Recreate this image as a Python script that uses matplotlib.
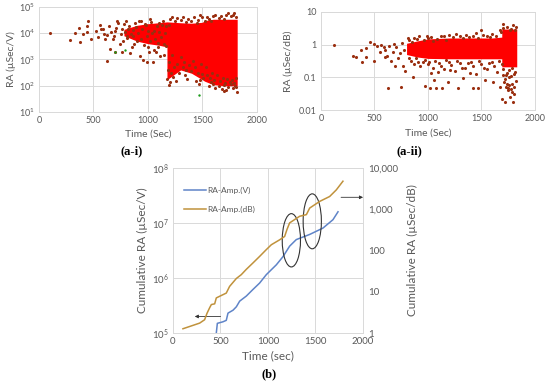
import numpy as np
import matplotlib.pyplot as plt
from matplotlib.patches import Ellipse

# ---- (a-i) RA (uSec/V) scatter ----
ai_x = [104, 288, 334, 365, 374, 405, 442, 442, 454, 482, 567, 595, 626, 620, 650, 696,
        718, 758, 804, 834, 865, 926, 957, 988, 1049, 1055, 1095, 1110, 1074,
        680, 700, 740, 780, 820, 850, 880, 900, 940, 980, 1000, 1020, 1060, 1100, 1140, 1150, 1010,
        520, 540, 560, 590, 610, 640, 660, 690, 710, 730, 750, 760, 770, 790, 800, 810, 830, 845,
        860, 875, 890, 910, 920, 935, 950, 965, 975, 990, 1005, 1015, 1030, 1040, 1065, 1080, 1090,
        1105, 1120, 1130, 1145, 1160, 1165, 1170,
        1180, 1190, 1200, 1230, 1260, 1290, 1320, 1340, 1360, 1400, 1440, 1470, 1480, 1510,
        1560, 1580, 1600, 1620, 1650, 1680, 1700, 1720, 1740, 1760, 1780, 1800, 1810,
        1185, 1195, 1210, 1225, 1240, 1270, 1300, 1330, 1350, 1380, 1410, 1430, 1460, 1490, 1500,
        1530, 1545, 1570, 1590, 1610, 1630, 1660, 1690, 1710, 1730, 1750, 1770, 1790, 1805, 1815, 1700,
        1200, 1250, 1300, 1350, 1400, 1450, 1480, 1520, 1560, 1600, 1650, 1700, 1737, 1792, 1760,
        1190, 1220, 1270, 1320, 1370, 1420, 1460, 1500, 1540, 1580, 1620, 1670, 1720, 1780, 1810]
ai_y = [1.05e4, 5.3e3, 1.0e4, 1.6e4, 4.8e3, 9.1e3, 1.9e4, 1.07e4, 2.8e4, 5.9e3, 1.5e4, 9.1e3, 8.7e3, 870, 2.5e3, 2.0e3,
        2.9e4, 2.0e3, 8.1e3, 1.7e3, 7.6e3, 1.4e3, 950, 830, 830, 2.3e3, 4.2e3, 1.3e3, 2.0e3,
        6e3, 1.2e4, 4e3, 2.2e4, 1.5e4, 3e3, 2.5e4, 5e3, 3e4, 2e4, 3e3, 3.5e4, 1.2e4, 2.5e4, 3e4, 4e3, 2e3,
        1.2e4, 7e3, 2e4, 1.4e4, 6e3, 1.8e4, 1.1e4, 8e3, 1.6e4, 2.4e4, 9e3, 1.4e4, 5e3, 1.1e4, 3e4, 6.5e3, 1.9e4, 9e3,
        1.3e4, 4e3, 1.7e4, 1e4, 2.8e4, 6e3, 1.5e4, 3.6e3, 2.2e4, 8e3, 1.2e4, 5e3, 2.7e4, 1e4, 6e3, 1.8e4, 3e3,
        1.1e4, 7e3, 2e4, 1.5e3, 1e4, 3.2e3, 1.8e4,
        180, 110, 140, 220, 150, 300, 500, 250, 180, 350, 150, 120, 160, 200,
        100, 140, 120, 80, 100, 75, 110, 70, 90, 120, 80, 100, 90,
        400, 800, 300, 1.5e3, 500, 700, 1.2e3, 800, 400, 600, 900, 500, 300, 700, 280,
        500, 250, 200, 300, 170, 250, 150, 200, 130, 180, 140, 160, 130, 200, 60, 65,
        3.5e4, 2.8e4, 3.2e4, 2.6e4, 3e4, 2.5e4, 5e4, 3e4, 3.5e4, 4.5e4, 3.8e4, 3.5e4, 6e4, 6e4, 4.5e4,
        2e4, 4e4, 3.8e4, 4.2e4, 3.5e4, 4e4, 3.2e4, 4e4, 4.2e4, 3e4, 5e4, 4.6e4, 5e4, 4.8e4, 4.2e4]
ai_green_x = [700, 790, 1470]
ai_green_y = [2.0e3, 2.2e3, 45]
# dense cloud envelope
ai_band_x = [780, 900, 1000, 1100, 1175, 1175, 1300, 1400, 1500, 1520, 1600, 1700, 1820]
ai_band_hi = [1.4e4, 2.0e4, 2.3e4, 2.5e4, 2.7e4, 2.7e4, 2.5e4, 2.4e4, 2.6e4, 3.0e4, 3.4e4, 3.4e4, 3.4e4]
ai_band_lo = [8e3, 5e3, 4e3, 3.5e3, 3e3, 170, 400, 300, 170, 150, 110, 100, 100]

# ---- (a-ii) RA (uSec/dB) scatter ----
aii_x = [118, 299, 330, 373, 379, 423, 460, 491, 498, 554, 585, 600, 631, 653, 678, 694, 740, 750,
         771, 787, 818, 864, 973, 1020, 1057, 1076, 1129, 1098, 1191, 1207, 1285, 1496, 1331, 1393,
         1424, 1471, 1533, 1611, 1673, 1689, 1720, 1767, 1792, 1807, 1751, 1735, 1782, 1798, 1823,
         1767, 1673, 1704,
         900, 1000, 1050, 1150, 1200, 1300, 1380, 1450, 1550, 1600,
         950, 1000, 1050, 1100, 1150, 1200, 1250, 1300, 1350, 1400, 1450, 1500, 1550, 1600, 1650,
         1700, 1720, 1740, 1760, 1780, 1800, 1700, 1740, 1780, 1810,
         420, 520, 560, 600, 620, 640, 670, 700, 720, 760, 780,
         820, 850, 870, 920, 960, 990, 1030, 1080, 1120, 1170, 1230, 1260, 1330, 1360, 1420, 1470,
         1510, 1580, 1640, 1680,
         820, 840, 870, 890, 910, 930, 970, 1010, 1030, 1070, 1120, 1170, 1220, 1270, 1320, 1370,
         1420, 1480, 1520, 1570, 1620, 1660, 1690,
         1700, 1715, 1730, 1745, 1760, 1775, 1790, 1805, 1820, 1810, 1725, 1755, 1790]
aii_y = [0.95, 0.45, 0.42, 0.71, 0.30, 0.42, 1.2, 0.32, 1.08, 0.60, 0.85, 0.43, 0.049, 0.32, 1.07, 0.23, 0.56, 0.051,
         0.23, 0.16, 1.65, 0.10, 0.053, 0.049, 0.081, 0.049, 0.049, 0.148, 0.072, 0.166, 0.049, 2.75, 0.093, 0.132,
         0.049, 0.046, 0.081, 0.072, 0.051, 0.022, 0.018, 0.026, 0.018, 0.032, 0.046, 0.065, 0.065, 3.9, 3.5,
         2.75, 2.75, 4.2,
         1.5, 1.6, 1.25, 1.8, 2.0, 1.9, 1.7, 2.2, 1.9, 2.1,
         0.30, 0.25, 0.20, 0.28, 0.18, 0.30, 0.16, 0.27, 0.20, 0.30, 0.13, 0.25, 0.18, 0.30, 0.15,
         0.12, 0.09, 0.14, 0.10, 0.11, 0.13, 3.2, 3.4, 3.0, 2.9,
         0.8, 0.9, 1.0, 0.7, 0.45, 0.9, 0.6, 0.85, 0.4, 1.1, 0.7,
         1.4, 1.2, 1.6, 1.8, 1.4, 1.9, 1.7, 1.5, 1.9, 1.4, 1.7, 2.1, 1.6, 2.0, 1.8, 1.6,
         2.0, 1.7, 1.9, 2.4,
         0.4, 0.32, 0.25, 0.38, 0.3, 0.22, 0.33, 0.3, 0.14, 0.32, 0.22, 0.33, 0.24, 0.32, 0.19, 0.28,
         0.23, 0.32, 0.2, 0.28, 0.22, 0.32, 0.25,
         0.18, 0.07, 0.05, 0.04, 0.06, 0.045, 0.035, 0.05, 0.08, 0.15, 0.12, 0.17, 0.19]
aii_band_x = [800, 900, 1000, 1200, 1400, 1600, 1690, 1690, 1830]
aii_band_hi = [1.1, 1.3, 1.5, 1.6, 1.6, 1.6, 1.7, 3.0, 3.0]
aii_band_lo = [0.5, 0.42, 0.38, 0.37, 0.37, 0.37, 0.37, 0.21, 0.21]

# ---- (b) cumulative RA ----
v_time = [450, 456, 467, 526, 561, 579, 632, 667, 702, 772, 842, 912, 982, 1088, 1158, 1228, 1298, 1439,
          1579, 1684, 1737]
v_cum = [8e4, 1.0e5, 1.5e5, 1.6e5, 1.7e5, 2.3e5, 2.6e5, 3.0e5, 3.8e5, 4.7e5, 6.2e5, 8.1e5, 1.15e6, 1.74e6,
         2.45e6, 3.8e6, 5.0e6, 6.2e6, 8.1e6, 1.15e7, 1.6e7]
db_time = [105, 281, 333, 358, 386, 404, 439, 456, 526, 561, 596, 667, 719, 772, 842, 912, 982, 1035, 1123,
           1175, 1200, 1228, 1333, 1404, 1439, 1544, 1649, 1719, 1789]
db_cum = [1.27, 1.74, 2.1, 3.0, 4.1, 4.9, 5.1, 7.1, 8.5, 9.3, 13.5, 21, 26, 35, 50, 72, 105, 138, 182,
          219, 324, 468, 676, 741, 1070, 1550, 2040, 2950, 4790]

grid_c = '#d9d9d9'
tick_c = '#595959'
dot_c = '#9a2f10'
red_c = '#ff0000'
plt.rcParams['font.family'] = ['Lato', 'DejaVu Sans']


def excel_style(ax, fs=6.5):
    ax.grid(True, color=grid_c, lw=0.7)
    ax.set_axisbelow(True)
    for s in ax.spines.values():
        s.set_color(grid_c)
        s.set_linewidth(0.7)
    ax.tick_params(length=0, labelsize=fs, colors=tick_c, pad=3)
    ax.minorticks_off()


fig = plt.figure(figsize=(5.5, 3.85), dpi=100)

# (a-i)
ax1 = fig.add_axes([0.0709, 0.709, 0.396, 0.273])
ax1.fill_between(ai_band_x, ai_band_lo, ai_band_hi, color=red_c, lw=0, zorder=2)
ax1.scatter(ai_x, ai_y, s=5, color=dot_c, lw=0, zorder=3)
ax1.scatter(ai_green_x, ai_green_y, s=3, color='#1a9a1a', lw=0, zorder=3)
ax1.set_yscale('log')
ax1.set_xlim(0, 2000)
ax1.set_ylim(10, 1e5)
ax1.set_xticks([0, 500, 1000, 1500, 2000])
ax1.set_yticks([1e1, 1e2, 1e3, 1e4, 1e5])
excel_style(ax1)
ax1.set_xlabel('Time (Sec)', fontsize=7.5, color=tick_c, labelpad=3)
ax1.set_ylabel('RA (\u00b5Sec/V)', fontsize=7.5, color=tick_c, labelpad=2)
fig.text(0.24, 0.598, '(a-i)', ha='center', fontsize=9, fontweight='bold', family='Liberation Serif')

# (a-ii)
ax2 = fig.add_axes([0.5836, 0.714, 0.389, 0.255])
ax2.fill_between(aii_band_x, aii_band_lo, aii_band_hi, color=red_c, lw=0, zorder=2)
ax2.scatter(aii_x, aii_y, s=5, color=dot_c, lw=0, zorder=3)
ax2.set_yscale('log')
ax2.set_xlim(0, 2000)
ax2.set_ylim(0.01, 10)
ax2.set_xticks([0, 500, 1000, 1500, 2000])
ax2.set_yticks([0.01, 0.1, 1, 10])
ax2.set_yticklabels(['0.01', '0.1', '1', '10'])
excel_style(ax2)
ax2.set_xlabel('Time (Sec)', fontsize=7.5, color=tick_c, labelpad=4)
ax2.set_ylabel('RA (\u00b5Sec/dB)', fontsize=7.5, color=tick_c, labelpad=4)
fig.text(0.745, 0.598, '(a-ii)', ha='center', fontsize=9, fontweight='bold', family='Liberation Serif')

# (b)
ax = fig.add_axes([0.3145, 0.135, 0.3455, 0.4286])
ax.plot(v_time, v_cum, color='#5f84c8', lw=1.1, label='RA-Amp.(V)')
ax.set_yscale('log')
ax.set_xlim(0, 2000)
ax.set_ylim(1e5, 1e8)
ax.set_xticks([0, 500, 1000, 1500, 2000])
ax.set_yticks([1e5, 1e6, 1e7, 1e8])
excel_style(ax, fs=7)
ax.set_xlabel('Time (sec)', fontsize=8.5, color=tick_c, labelpad=3)
ax.set_ylabel('Cumulative RA (\u00b5Sec/V)', fontsize=8.5, color=tick_c, labelpad=3)

axr = ax.twinx()
axr.plot(db_time, db_cum, color='#c0923c', lw=1.1, label='RA-Amp.(dB)')
axr.set_yscale('log')
axr.set_ylim(1, 1e4)
axr.set_yticks([1, 10, 100, 1000, 10000])
axr.set_yticklabels(['1', '10', '100', '1,000', '10,000'])
for s in axr.spines.values():
    s.set_visible(False)
axr.tick_params(length=0, labelsize=7, colors=tick_c, pad=4)
axr.minorticks_off()
axr.set_ylabel('Cumulative RA (\u00b5Sec/dB)', fontsize=8.5, color=tick_c, labelpad=6)

h1, l1 = ax.get_legend_handles_labels()
h2, l2 = axr.get_legend_handles_labels()
axr.legend(h1 + h2, l1 + l2, loc='upper left', bbox_to_anchor=(0.02, 0.93), frameon=False,
           fontsize=6, handlelength=2.6, labelspacing=1.4, handletextpad=0.2, labelcolor=tick_c)

# circled regions
axr.add_patch(Ellipse((0.623, 0.562), 0.096, 0.323, transform=ax.transAxes, fill=False, ec='#333333', lw=0.8))
axr.add_patch(Ellipse((0.733, 0.677), 0.096, 0.333, transform=ax.transAxes, fill=False, ec='#333333', lw=0.8))
# axis arrows
ax.annotate('', xy=(200, 2e5), xytext=(530, 2e5),
            arrowprops=dict(arrowstyle='-|>', color='#333333', lw=0.6, mutation_scale=5))
axr.annotate('', xy=(2030, 1950), xytext=(1740, 1950), annotation_clip=False,
             arrowprops=dict(arrowstyle='-|>', color='#333333', lw=0.6, mutation_scale=5))
fig.text(0.49, 0.02, '(b)', ha='center', fontsize=9, fontweight='bold', family='Liberation Serif')

fig.savefig('out.png', dpi=100)
